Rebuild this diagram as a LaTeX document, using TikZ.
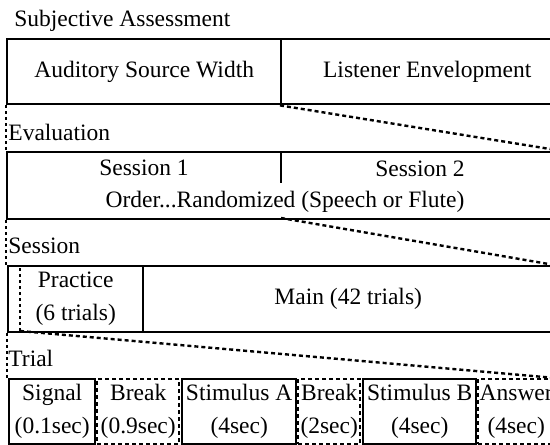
\documentclass[tikz,border=0pt]{standalone}
\usepackage{fontspec}
\setmainfont{Liberation Serif}
\begin{document}
\begin{tikzpicture}[x=0.5pt,y=-0.5pt,
    every node/.style={font=\fontsize{11.75}{16.5}\selectfont},
    box/.style={draw, line width=1.2pt, inner sep=0pt, anchor=north west, align=center},
    pausebox/.style={box, dash pattern=on 2pt off 1.5pt},
    level/.style={anchor=base west, inner sep=0pt},
    zoomline/.style={line width=1.2pt, dash pattern=on 2pt off 1.5pt},
    tick/.style={line width=1.2pt, dash pattern=on 1.5pt off 1.5pt}]
    \clip (0,0) rectangle (550,444);

    % top level: the two attributes
    \node[level] (lsubj) at (14,27) {Subjective Assessment};
    \node[box, minimum width=137pt, minimum height=32.5pt] (asw) at (6,38) {Auditory Source Width};
    \node[box, minimum width=146pt, minimum height=32.5pt] (env) at (280,38) {Listener Envelopment};

    % evaluation: two sessions
    \node[level] (leval) at (8,140) {Evaluation};
    \node[box, minimum width=277pt, minimum height=33.5pt] (sessions) at (6,151) {};
    \node[anchor=base] (s1) at (144,175) {Session 1};
    \node[anchor=base] (s2) at (420,176) {Session 2};
    \node[anchor=base] (order) at (285,207) {Order...Randomized (Speech or Flute)};
    \coordinate (cut) at (281,151);
    \coordinate (cutend) at (281,218);
    \draw[line width=1.2pt] (cut) -- ++(0,32);

    % one session
    \node[level] (lsess) at (8,253) {Session};
    \node[box, minimum width=67.5pt, minimum height=33pt] (practice) at (7,265) {Practice\\(6 trials)};
    \node[box, minimum width=205pt, minimum height=33pt] (main) at (142,265) {Main (42 trials)};
    \coordinate (ptop) at (20,268);
    \coordinate (pbot) at (20,331);
    \draw[tick] (ptop) -- (pbot);

    % one trial
    \node[level] (ltrial) at (8,366) {Trial};
    \node[box, minimum width=43pt, minimum height=32.5pt] (signal) at (8,378) {Signal\\(0.1sec)};
    \node[pausebox, minimum width=41pt, minimum height=32.5pt] (brka) at (96,378) {Break\\(0.9sec)};
    \node[box, minimum width=57pt, minimum height=32.5pt] (stima) at (181,378) {Stimulus A\\(4sec)};
    \node[pausebox, minimum width=31pt, minimum height=32.5pt] (brkb) at (297,378) {Break\\(2sec)};
    \node[box, minimum width=56.5pt, minimum height=32.5pt] (stimb) at (362,378) {Stimulus B\\(4sec)};
    \node[pausebox, minimum width=38pt, minimum height=32.5pt] (answer) at (477,378) {Answer\\(4sec)};

    % zoom lines between levels
    \draw[zoomline] (env.south west) -- (sessions.north east);
    \draw[tick] (asw.south west) -- (sessions.north west);
    \draw[zoomline] (cutend) -- (main.north east);
    \draw[tick] (sessions.south west) -- (sessions.south west |- practice.north);
    \draw[zoomline] (pbot) -- (answer.north east);
    \draw[tick] (practice.south west) -- (practice.south west |- signal.north);
\end{tikzpicture}
\end{document}
